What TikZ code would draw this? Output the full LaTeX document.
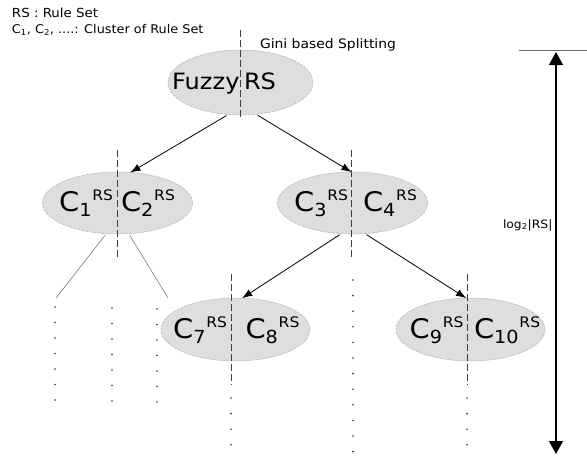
\documentclass[tikz,border=0pt]{standalone}
\usepackage{fontspec}
\setmainfont[FakeStretch=1.07]{DejaVu Sans}
\usetikzlibrary{shapes.geometric,arrows.meta}

% cluster label: C with a subscript index and an RS superscript, set in a row
\newcommand\clusterlabel[1]{{\fontsize{27}{27}\selectfont C}{\fontsize{18}{18}\selectfont\raisebox{-5.5pt}{#1}}\kern0.8pt{\fontsize{14.5}{14.5}\selectfont\raisebox{11pt}{RS}}}

\begin{document}
\begin{tikzpicture}[x=1pt,y=-1pt,
  cluster/.style={ellipse, fill=black!13, draw=black!30, dash pattern=on 3pt off 1pt,
    line width=0.5pt, inner sep=0pt, outer sep=0pt},
  split/.style={draw=black!75, line width=1pt, dash pattern=on 7pt off 3pt},
  edge/.style={-{Latex[length=10pt,width=7.5pt]}, line width=0.8pt, shorten <=2pt},
  branch/.style={draw=black!60, line width=0.5pt, shorten <=2pt},
  lbl/.style={inner sep=0pt, outer sep=0pt},
  dot/.style={fill=black!80},
  depth/.style={{Triangle[width=14pt,length=13pt]}-{Triangle[width=14pt,length=13pt]}, line width=1.3pt}
]
\useasboundingbox (0,0) rectangle (587,458);

% legend
\node[lbl, anchor=base west, font=\fontsize{12.5}{12.5}\selectfont] (leg1) at (12,17.7) {RS : Rule Set};
\node[lbl, anchor=base west, font=\fontsize{12}{12}\selectfont] (leg2) at (12,33.3)
  {C\textsubscript{1}, C\textsubscript{2}, ....: Cluster of Rule Set};

% clusters
\node[cluster, minimum width=145pt, minimum height=65pt] (fz)   at (240.5,82.5) {};
\node[cluster, minimum width=150pt, minimum height=62pt] (c12)  at (117.5,203) {};
\node[cluster, minimum width=150pt, minimum height=62pt] (c34)  at (352.5,203) {};
\node[cluster, minimum width=149pt, minimum height=63pt] (c78)  at (235.5,329.5) {};
\node[cluster, minimum width=149pt, minimum height=63pt] (c910) at (470.5,329.5) {};

% splitting lines
\draw[split] (240,30) -- (240,120);
\draw[split] (117,150) -- (117,260);
\draw[split] (351,150) -- (351,260);
\draw[split] (231,274) -- (231,385);
\draw[split] (467,274) -- (467,385);

% labels
\node[lbl, anchor=base west, font=\fontsize{13}{13}\selectfont] (gini) at (260,48.5) {Gini based Splitting};
\node[lbl, anchor=base east, font=\fontsize{22.5}{22.5}\selectfont] (fzl) at (239.5,89) {Fuzzy};
\node[lbl, anchor=base west, font=\fontsize{22.5}{22.5}\selectfont] (fzr) at (244,89) {RS};

\node[lbl, anchor=base east] (l1)  at (113,211) {\clusterlabel{1}};
\node[lbl, anchor=base west] (l2)  at (121,211) {\clusterlabel{2}};
\node[lbl, anchor=base east] (l3)  at (348,211) {\clusterlabel{3}};
\node[lbl, anchor=base west] (l4)  at (363,211) {\clusterlabel{4}};
\node[lbl, anchor=base east] (l7)  at (227,338) {\clusterlabel{7}};
\node[lbl, anchor=base west] (l8)  at (245.5,338) {\clusterlabel{8}};
\node[lbl, anchor=base east] (l9)  at (463.5,338) {\clusterlabel{9}};
\node[lbl, anchor=base west] (l10) at (474,338) {\clusterlabel{10}};

% tree edges
\draw[edge] (fz.-111) -- (c12.67);
\draw[edge] (fz.-64) -- (c34.92);
\draw[edge] (c34.-110) -- (c78.78);
\draw[edge] (c34.-68) -- (c910.98);

% faint branches below the first pair
\coordinate (b1) at (56,298);
\coordinate (b2) at (168,298);
\draw[branch] (c12.-110) -- (b1);
\draw[branch] (c12.-70) -- (b2);

% dotted continuations
\foreach \i in {0,...,6} {
  \fill[dot] (55,{307+15.5*\i}) circle (0.9pt);
  \fill[dot] (112,{308+15.5*\i}) circle (0.9pt);
  \fill[dot] (157,{309+15.5*\i}) circle (0.9pt);
}
\foreach \i in {0,...,11} \fill[dot] (353,{280+15.6*\i}) circle (0.9pt);
\foreach \i in {0,...,3} {
  \fill[dot] (231,{398+15.6*\i}) circle (0.9pt);
  \fill[dot] (467,{398+15.6*\i}) circle (0.9pt);
}

% tree depth
\draw[black!60, line width=0.8pt] (519,50) -- (587,50);
\coordinate (dtop) at (556,52);
\coordinate (dbot) at (556,454);
\draw[depth] (dtop) -- (dbot);
\node[lbl, anchor=base west, font=\fontsize{11.5}{11.5}\selectfont] (logl) at (503,228) {log\textsubscript{2}|RS|};
\end{tikzpicture}
\end{document}
